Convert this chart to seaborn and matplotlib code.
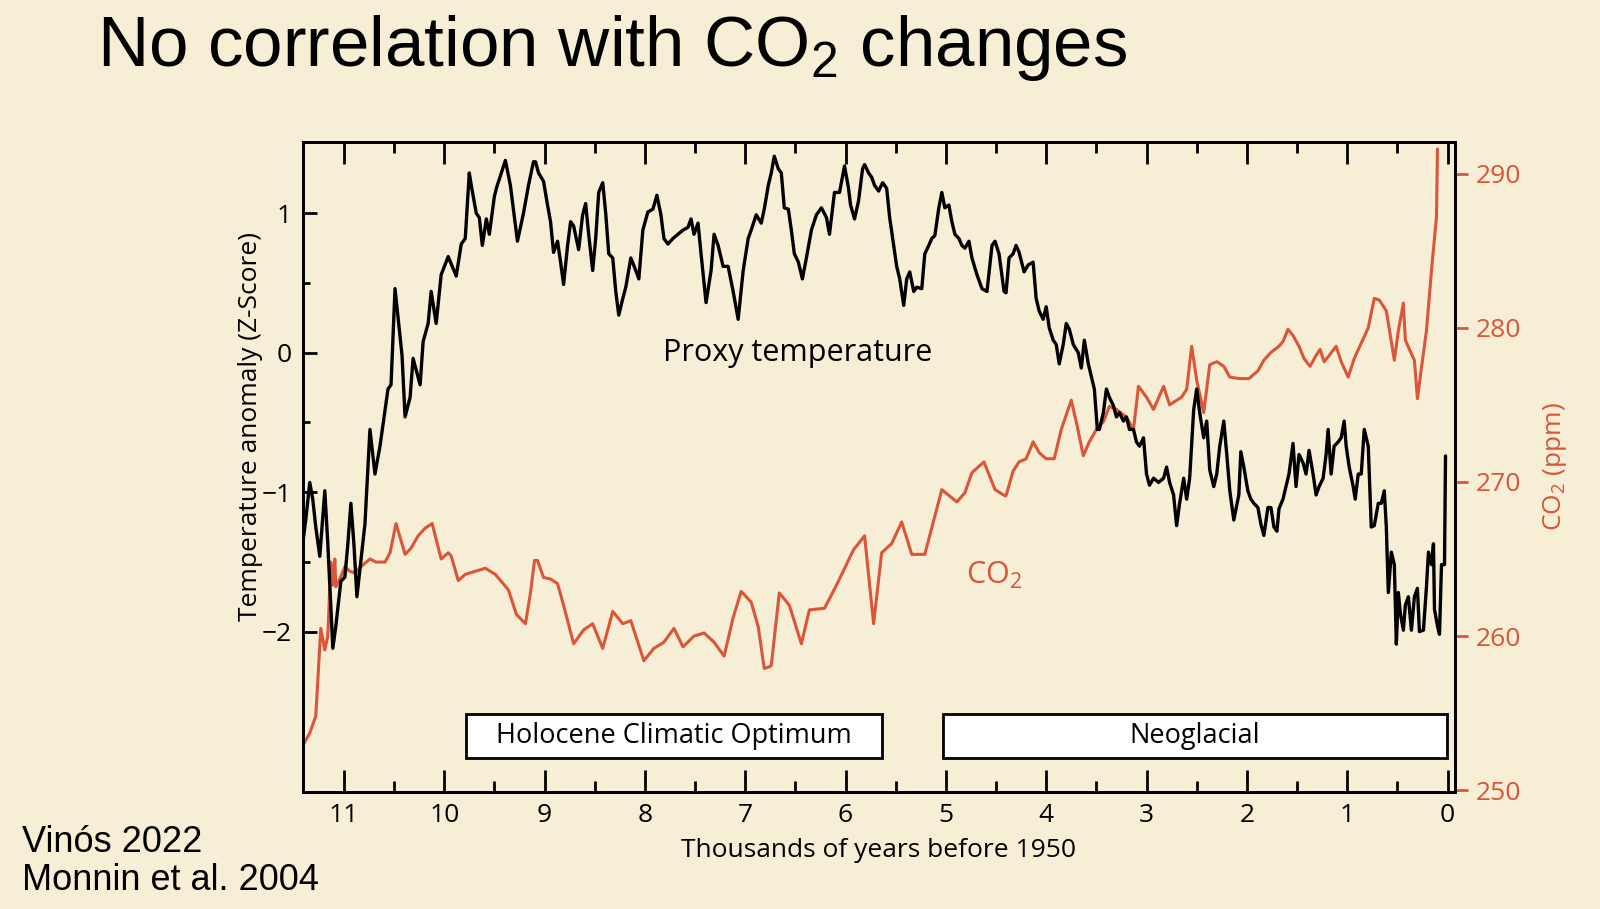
import matplotlib
matplotlib.use('Agg')
import matplotlib.pyplot as plt
import matplotlib.transforms as mtransforms
from matplotlib.ticker import FixedLocator
import seaborn as sns

# Proxy temperature (z-score), thousands of years before 1950
temp_kyr = [11.41, 11.38, 11.34, 11.31, 11.28, 11.24, 11.19, 11.16, 11.11, 11.08,
            11.03, 10.99, 10.96, 10.93, 10.90, 10.87, 10.83, 10.79, 10.74, 10.69,
            10.64, 10.56, 10.53, 10.49, 10.42, 10.39, 10.34, 10.31, 10.24, 10.21,
            10.16, 10.13, 10.08, 10.03, 9.96, 9.88, 9.83, 9.79, 9.75, 9.73,
            9.68, 9.65, 9.62, 9.58, 9.55, 9.50, 9.48, 9.39, 9.34, 9.27,
            9.21, 9.16, 9.11, 9.09, 9.06, 9.01, 8.97, 8.94, 8.91, 8.87,
            8.84, 8.81, 8.77, 8.74, 8.71, 8.66, 8.62, 8.59, 8.56, 8.52,
            8.49, 8.46, 8.42, 8.39, 8.36, 8.32, 8.29, 8.26, 8.22, 8.19,
            8.14, 8.09, 8.06, 8.02, 7.97, 7.92, 7.88, 7.84, 7.81, 7.77,
            7.72, 7.67, 7.62, 7.57, 7.54, 7.51, 7.47, 7.44, 7.39, 7.34,
            7.31, 7.27, 7.22, 7.17, 7.12, 7.07, 7.02, 6.97, 6.94, 6.89,
            6.84, 6.81, 6.77, 6.74, 6.71, 6.67, 6.64, 6.61, 6.57, 6.54,
            6.51, 6.47, 6.43, 6.39, 6.34, 6.29, 6.24, 6.19, 6.16, 6.11,
            6.06, 6.01, 5.97, 5.95, 5.91, 5.87, 5.83, 5.81, 5.77, 5.74,
            5.71, 5.67, 5.63, 5.59, 5.56, 5.52, 5.49, 5.46, 5.42, 5.39,
            5.36, 5.32, 5.29, 5.24, 5.21, 5.17, 5.14, 5.11, 5.07, 5.04,
            5.01, 4.97, 4.94, 4.91, 4.87, 4.84, 4.81, 4.77, 4.74, 4.69,
            4.64, 4.59, 4.54, 4.51, 4.47, 4.42, 4.40, 4.37, 4.33, 4.30,
            4.27, 4.22, 4.18, 4.13, 4.10, 4.07, 4.03, 4.00, 3.97, 3.93,
            3.90, 3.87, 3.83, 3.80, 3.77, 3.73, 3.68, 3.65, 3.62, 3.58,
            3.55, 3.52, 3.49, 3.47, 3.43, 3.40, 3.37, 3.33, 3.30, 3.27,
            3.23, 3.20, 3.17, 3.13, 3.10, 3.07, 3.03, 3.00, 2.97, 2.93,
            2.88, 2.83, 2.80, 2.77, 2.73, 2.70, 2.67, 2.63, 2.60, 2.57,
            2.53, 2.50, 2.47, 2.43, 2.40, 2.37, 2.33, 2.30, 2.27, 2.23,
            2.20, 2.17, 2.13, 2.08, 2.06, 2.03, 1.99, 1.96, 1.93, 1.89,
            1.86, 1.83, 1.79, 1.76, 1.73, 1.70, 1.68, 1.64, 1.61, 1.58,
            1.54, 1.51, 1.48, 1.44, 1.41, 1.38, 1.34, 1.31, 1.28, 1.24,
            1.21, 1.19, 1.16, 1.13, 1.09, 1.06, 1.03, 1.01, 0.98, 0.94,
            0.92, 0.89, 0.86, 0.83, 0.79, 0.76, 0.73, 0.69, 0.66, 0.63,
            0.61, 0.59, 0.56, 0.53, 0.51, 0.49, 0.47, 0.44, 0.42, 0.39,
            0.36, 0.33, 0.30, 0.28, 0.24, 0.21, 0.19, 0.16, 0.14, 0.13,
            0.10, 0.08, 0.06, 0.03, 0.02]
temp_z = [-1.37, -1.20, -0.93, -1.05, -1.25, -1.46, -0.99, -1.37, -2.12, -1.96,
          -1.64, -1.61, -1.37, -1.08, -1.37, -1.75, -1.49, -1.23, -0.55, -0.87,
          -0.67, -0.26, -0.23, 0.46, -0.02, -0.46, -0.32, -0.04, -0.23, 0.08,
          0.21, 0.44, 0.21, 0.56, 0.69, 0.55, 0.78, 0.82, 1.29, 1.20,
          1.00, 0.97, 0.77, 0.96, 0.85, 1.12, 1.18, 1.38, 1.20, 0.80,
          1.00, 1.20, 1.37, 1.37, 1.29, 1.23, 1.06, 0.94, 0.72, 0.80,
          0.65, 0.49, 0.77, 0.94, 0.91, 0.74, 0.99, 1.07, 0.85, 0.59,
          0.82, 1.15, 1.22, 1.00, 0.71, 0.68, 0.44, 0.27, 0.39, 0.47,
          0.68, 0.59, 0.53, 0.88, 1.01, 1.03, 1.13, 0.99, 0.82, 0.78,
          0.82, 0.85, 0.88, 0.90, 0.96, 0.85, 0.93, 0.71, 0.36, 0.59,
          0.85, 0.77, 0.62, 0.62, 0.44, 0.24, 0.59, 0.82, 0.88, 0.99,
          0.93, 1.03, 1.20, 1.29, 1.41, 1.32, 1.29, 1.04, 1.03, 0.88,
          0.71, 0.65, 0.53, 0.68, 0.88, 0.99, 1.04, 0.97, 0.85, 1.15,
          1.15, 1.34, 1.18, 1.06, 0.96, 1.09, 1.32, 1.35, 1.29, 1.26,
          1.20, 1.16, 1.22, 1.18, 0.97, 0.77, 0.62, 0.53, 0.34, 0.53,
          0.58, 0.44, 0.47, 0.46, 0.71, 0.77, 0.82, 0.84, 1.04, 1.15,
          1.04, 1.06, 0.94, 0.85, 0.82, 0.77, 0.75, 0.80, 0.68, 0.56,
          0.46, 0.44, 0.77, 0.80, 0.71, 0.44, 0.43, 0.68, 0.71, 0.77,
          0.72, 0.58, 0.63, 0.65, 0.39, 0.30, 0.24, 0.33, 0.18, 0.09,
          0.06, -0.08, 0.06, 0.21, 0.17, 0.06, 0.00, -0.11, 0.09, -0.08,
          -0.17, -0.26, -0.55, -0.55, -0.43, -0.26, -0.32, -0.38, -0.46, -0.43,
          -0.49, -0.46, -0.55, -0.55, -0.64, -0.67, -0.61, -0.87, -0.95, -0.90,
          -0.93, -0.90, -0.82, -0.93, -1.02, -1.24, -1.08, -0.90, -1.05, -0.90,
          -0.41, -0.26, -0.43, -0.61, -0.49, -0.84, -0.96, -0.87, -0.67, -0.49,
          -0.73, -0.99, -1.20, -1.02, -0.71, -0.82, -0.99, -1.05, -1.08, -1.11,
          -1.23, -1.31, -1.11, -1.11, -1.25, -1.28, -1.12, -1.05, -0.96, -0.87,
          -0.65, -0.96, -0.73, -0.79, -0.87, -0.70, -0.87, -1.02, -0.96, -0.90,
          -0.73, -0.55, -0.87, -0.67, -0.64, -0.61, -0.49, -0.67, -0.82, -0.96,
          -1.05, -0.87, -0.87, -0.55, -0.67, -1.25, -1.24, -1.08, -1.08, -0.99,
          -1.25, -1.72, -1.43, -1.52, -2.09, -1.72, -1.87, -1.99, -1.81, -1.75,
          -1.99, -1.75, -1.69, -2.00, -1.99, -1.68, -1.43, -1.52, -1.37, -1.84,
          -1.96, -2.02, -1.52, -1.52, -0.74]

# Atmospheric CO2 (ppm), thousands of years before 1950
co2_kyr = [11.41, 11.34, 11.28, 11.23, 11.19, 11.16, 11.13, 11.11, 11.09, 11.08,
           11.04, 10.99, 10.94, 10.89, 10.83, 10.74, 10.68, 10.59, 10.54, 10.48,
           10.39, 10.33, 10.26, 10.19, 10.12, 10.03, 9.96, 9.93, 9.86, 9.79,
           9.69, 9.59, 9.49, 9.36, 9.28, 9.19, 9.14, 9.10, 9.07, 9.01,
           8.94, 8.87, 8.81, 8.71, 8.61, 8.52, 8.42, 8.32, 8.22, 8.14,
           8.01, 7.91, 7.81, 7.71, 7.62, 7.51, 7.41, 7.31, 7.21, 7.12,
           7.04, 6.94, 6.87, 6.81, 6.76, 6.74, 6.66, 6.56, 6.44, 6.36,
           6.21, 6.09, 5.92, 5.81, 5.72, 5.64, 5.54, 5.44, 5.34, 5.21,
           5.04, 4.89, 4.81, 4.74, 4.62, 4.51, 4.41, 4.40, 4.33, 4.27,
           4.20, 4.13, 4.07, 4.00, 3.92, 3.85, 3.75, 3.70, 3.63, 3.57,
           3.50, 3.43, 3.37, 3.30, 3.20, 3.13, 3.08, 3.00, 2.93, 2.83,
           2.77, 2.65, 2.60, 2.55, 2.50, 2.43, 2.37, 2.30, 2.23, 2.17,
           2.07, 1.98, 1.89, 1.83, 1.76, 1.68, 1.64, 1.59, 1.54, 1.48,
           1.43, 1.37, 1.31, 1.27, 1.23, 1.18, 1.11, 1.06, 0.99, 0.93,
           0.86, 0.79, 0.73, 0.68, 0.61, 0.53, 0.49, 0.44, 0.42, 0.38,
           0.33, 0.30, 0.26, 0.21, 0.16, 0.11, 0.10]
co2_ppm = [252.9, 253.7, 254.8, 260.5, 259.1, 260.0, 264.8, 263.3, 265.0, 263.2,
           263.7, 264.5, 264.2, 264.1, 264.5, 265.0, 264.8, 264.8, 265.4, 267.3,
           265.3, 265.7, 266.5, 267.0, 267.3, 265.0, 265.4, 265.2, 263.6, 264.0,
           264.2, 264.4, 264.0, 263.0, 261.4, 260.8, 262.8, 264.9, 264.9, 263.8,
           263.7, 263.4, 262.0, 259.5, 260.4, 260.8, 259.2, 261.6, 260.8, 261.0,
           258.4, 259.2, 259.6, 260.5, 259.3, 260.0, 260.2, 259.6, 258.7, 261.2,
           262.9, 262.2, 260.6, 257.9, 258.0, 258.1, 262.8, 262.0, 259.5, 261.7,
           261.8, 263.3, 265.6, 266.5, 260.8, 265.4, 266.0, 267.4, 265.3, 265.3,
           269.5, 268.7, 269.3, 270.6, 271.3, 269.5, 269.1, 269.1, 270.7, 271.3,
           271.5, 272.6, 271.9, 271.5, 271.5, 273.4, 275.3, 273.9, 271.7, 272.6,
           273.4, 273.9, 274.9, 274.7, 274.2, 273.4, 276.2, 275.5, 274.7, 276.2,
           275.0, 275.5, 276.0, 278.8, 276.6, 274.5, 277.6, 277.8, 277.5, 276.8,
           276.7, 276.7, 277.2, 277.9, 278.4, 278.8, 279.1, 279.9, 279.5, 278.8,
           278.0, 277.5, 278.2, 278.6, 277.8, 278.2, 278.8, 277.8, 276.8, 278.0,
           279.0, 280.0, 281.9, 281.8, 281.1, 277.9, 279.8, 281.6, 279.2, 278.6,
           277.9, 275.4, 277.4, 279.8, 283.7, 287.2, 291.6]

period_names = ['Holocene Climatic Optimum', 'Neoglacial']
period_start = [9.78, 5.03]
period_end = [5.64, 0.01]

x_ticks = list(range(0, 12))
x_minor = [0.5, 1.5, 2.5, 3.5, 4.5, 5.5, 6.5, 7.5, 8.5, 9.5, 10.5]
temp_ticks = [-2, -1, 0, 1]
temp_minor = [-1.5, -0.5, 0.5]
co2_ticks = [250, 260, 270, 280, 290]

BG = '#f6eed5'
RED = '#da5539'

sns.set_style('ticks')
plt.rcParams['font.family'] = ['Open Sans', 'DejaVu Sans']
plt.rcParams['axes.linewidth'] = 2.0
plt.rcParams['text.color'] = 'black'
plt.rcParams['axes.labelcolor'] = 'black'
plt.rcParams['xtick.color'] = 'black'
plt.rcParams['ytick.color'] = 'black'

fig = plt.figure(figsize=(16, 9.09), dpi=100)
fig.patch.set_facecolor(BG)
ax = fig.add_axes([0.1892, 0.129, 0.7202, 0.7151])
ax2 = ax.twinx()

sns.lineplot(x=co2_kyr, y=co2_ppm, ax=ax2, color=RED, linewidth=2.2,
             sort=False, estimator=None)
sns.lineplot(x=temp_kyr, y=temp_z, ax=ax, color='black', linewidth=2.4,
             sort=False, estimator=None)

# black curve on top of the red one
ax.set_zorder(2)
ax2.set_zorder(1)
ax.patch.set_visible(False)
ax2.patch.set_visible(False)

ax.set_xlim(11.41, -0.075)
ax.set_ylim(-3.149, 1.514)
ax2.set_ylim(249.9, 292.07)

for a in (ax, ax2):
    for sp in a.spines.values():
        sp.set_visible(True)
        sp.set_color('black')
        sp.set_linewidth(2.0)

ax.xaxis.set_major_locator(FixedLocator(x_ticks))
ax.xaxis.set_minor_locator(FixedLocator(x_minor))
ax.set_xticklabels([str(t) for t in x_ticks])
ax.yaxis.set_major_locator(FixedLocator(temp_ticks))
ax.yaxis.set_minor_locator(FixedLocator(temp_minor))
ax.set_yticklabels(['\u2212' + str(-t) if t < 0 else str(t) for t in temp_ticks])

ax.tick_params(axis='x', which='major', direction='in', top=True, length=16,
               width=2, labelsize=19, pad=8)
ax.tick_params(axis='x', which='minor', direction='in', top=True, length=8, width=2)
ax.tick_params(axis='y', which='major', direction='in', length=10, width=2,
               labelsize=19, pad=8)
ax.tick_params(axis='y', which='minor', direction='in', length=5, width=2)

ax2.yaxis.set_major_locator(FixedLocator(co2_ticks))
ax2.tick_params(axis='y', which='major', direction='out', length=9, width=2,
                color=RED, labelcolor=RED, labelsize=19, pad=6)

ax.set_xlabel('Thousands of years before 1950', fontsize=19, labelpad=7)
ax.set_ylabel('Temperature anomaly (Z-Score)', fontsize=19)
ax.yaxis.set_label_coords(-0.0345, 0.562)
ax2.set_ylabel('CO$_\\mathregular{2}$ (ppm)', fontsize=19, color=RED, labelpad=14)

ax.text(6.48, 0.0, 'Proxy temperature', fontsize=22, ha='center', va='center')
ax2.text(4.52, 263.9, 'CO$_\\mathregular{2}$', fontsize=22, color=RED,
         ha='center', va='center')

trans = mtransforms.blended_transform_factory(ax.transData, ax.transAxes)
for name, s, e in zip(period_names, period_start, period_end):
    ax.axvspan(s, e, ymin=0.052, ymax=0.12, facecolor='white',
               edgecolor='black', linewidth=2, zorder=3)
    ax.text((s + e) / 2, 0.086, name, transform=trans, fontsize=19.5,
            ha='center', va='center', zorder=4)

fig.text(0.0606, 0.927, 'No correlation with CO$_\\mathregular{2}$ changes',
         fontsize=51, family=['Liberation Sans', 'DejaVu Sans'],
         ha='left', va='baseline')
fig.text(0.014, 0.063, 'Vinós 2022', fontsize=26,
         family=['Liberation Sans', 'DejaVu Sans'], ha='left', va='baseline')
fig.text(0.014, 0.021, 'Monnin et al. 2004', fontsize=26,
         family=['Liberation Sans', 'DejaVu Sans'], ha='left', va='baseline')

fig.savefig('out.png', dpi=100, facecolor=BG)
